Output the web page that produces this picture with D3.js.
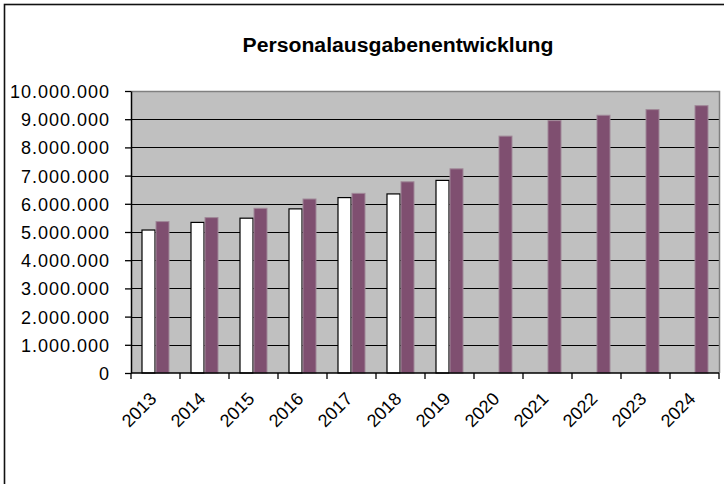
<!DOCTYPE html>
<html>
<head>
<meta charset="utf-8">
<script src="https://cdn.jsdelivr.net/npm/d3@7"></script>
<style>
  body { margin: 0; background: #fff; }
  text { font-family: "Liberation Sans", Arial, sans-serif; fill: #000; }
</style>
</head>
<body>
<div id="chart"></div>
<script>
// ---------------------------------------------data-----------------------------------------------
const years = ["2013","2014","2015","2016","2017","2018","2019","2020","2021","2022","2023","2024"];
const istValues  = [5070000, 5340000, 5490000, 5820000, 6220000, 6350000, 6830000];
const planValues = [5370000, 5510000, 5840000, 6170000, 6370000, 6780000, 7240000, 8400000, 8950000, 9140000, 9340000, 9480000];
const yTicks = [0,1000000,2000000,3000000,4000000,5000000,6000000,7000000,8000000,9000000,10000000];
const title = "Personalausgabenentwicklung";

const W = 724, H = 484;
const plot = {left: 131, right: 719, top: 91, bottom: 373};

const de = d3.formatLocale({decimal: ",", thousands: ".", grouping: [3], currency: ["", " €"]});
const fmt = de.format(",d");

const svg = d3.select("#chart").append("svg")
  .attr("width", W).attr("height", H);

// outer frame
svg.append("rect")
  .attr("x", 4.5).attr("y", 4.5)
  .attr("width", 900).attr("height", 900)
  .attr("fill", "#fff").attr("stroke", "#111").attr("stroke-width", 1.6);

// title
svg.append("text")
  .attr("x", 398).attr("y", 52)
  .attr("text-anchor", "middle")
  .attr("font-size", 20).attr("font-weight", "bold")
  .attr("textLength", 311).attr("lengthAdjust", "spacingAndGlyphs")
  .text(title);

// ---------------------------------------------scales---------------------------------------------
const x = d3.scaleBand().domain(years).range([plot.left, plot.right]).padding(0);
const bw = x.bandwidth() / 3.5;
const x1 = d3.scaleBand().domain(["ist","plan"])
  .range([bw * 0.75, bw * 2.75]).padding(0);
const y = d3.scaleLinear().domain([0, 10000000]).range([plot.bottom, plot.top]);

// plot area
svg.append("rect")
  .attr("x", plot.left).attr("y", plot.top)
  .attr("width", plot.right - plot.left).attr("height", plot.bottom - plot.top)
  .attr("fill", "#c0c0c0");

// gridlines
svg.append("g").selectAll("line")
  .data(yTicks.filter(d => d > 0 && d < 10000000))
  .enter().append("line")
    .attr("x1", plot.left).attr("x2", plot.right)
    .attr("y1", d => Math.round(y(d)) + 0.5).attr("y2", d => Math.round(y(d)) + 0.5)
    .attr("stroke", "#000").attr("stroke-width", 1.2);

// plot border (top/right gray)
svg.append("path")
  .attr("d", `M${plot.left},${plot.top + 0.5}H${plot.right + 0.5}V${plot.bottom}`)
  .attr("fill", "none").attr("stroke", "#808080").attr("stroke-width", 1.5);

// ---------------------------------------------bars-----------------------------------------------
const groups = svg.append("g");

groups.selectAll("rect.ist")
  .data(istValues)
  .enter().append("rect")
    .attr("class", "ist")
    .attr("x", (d, i) => x(years[i]) + x1("ist") + 0.5)
    .attr("y", d => y(d))
    .attr("width", x1.bandwidth() - 1)
    .attr("height", d => plot.bottom - y(d))
    .attr("fill", "#fff").attr("stroke", "#000").attr("stroke-width", 1.2);

groups.selectAll("rect.plan")
  .data(planValues)
  .enter().append("rect")
    .attr("class", "plan")
    .attr("x", (d, i) => x(years[i]) + x1("plan") + 0.5)
    .attr("y", d => y(d))
    .attr("width", x1.bandwidth() - 1)
    .attr("height", d => plot.bottom - y(d))
    .attr("fill", "#7f4f70").attr("stroke", "#a08898").attr("stroke-width", 1);

// ---------------------------------------------axes-----------------------------------------------
const yAxis = svg.append("g")
  .attr("transform", `translate(${plot.left},0)`)
  .call(d3.axisLeft(y).tickValues(yTicks).tickFormat(fmt).tickSize(6).tickSizeOuter(0));
yAxis.select(".domain").attr("stroke", "#000").attr("stroke-width", 1.5);
yAxis.selectAll(".tick line").attr("stroke", "#000").attr("stroke-width", 1.3);
yAxis.selectAll(".tick text")
  .attr("x", -21).attr("dy", "0.36em")
  .attr("font-size", 18).attr("letter-spacing", "1px")
  .attr("font-family", "Liberation Sans, Arial, sans-serif");

const xAxis = svg.append("g")
  .attr("transform", `translate(0,${plot.bottom})`);
xAxis.append("line")
  .attr("x1", plot.left).attr("x2", plot.right)
  .attr("stroke", "#000").attr("stroke-width", 1.5);
xAxis.selectAll("line.tk")
  .data(years.concat(["end"]))
  .enter().append("line")
    .attr("class", "tk")
    .attr("x1", (d, i) => plot.left + i * x.bandwidth())
    .attr("x2", (d, i) => plot.left + i * x.bandwidth())
    .attr("y1", 0).attr("y2", 6)
    .attr("stroke", "#000").attr("stroke-width", 1.3);
xAxis.selectAll("text")
  .data(years)
  .enter().append("text")
    .attr("transform", d => `translate(${x(d) + x.bandwidth() / 2 + 2},${27}) rotate(-45)`)
    .attr("text-anchor", "end")
    .attr("font-size", 18)
    .text(d => d);
</script>
</body>
</html>
